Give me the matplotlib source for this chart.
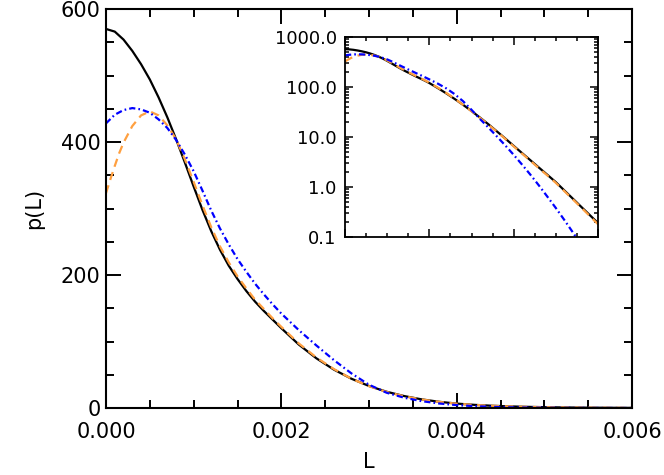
import numpy as np
import matplotlib
matplotlib.use("Agg")
import matplotlib.pyplot as plt
from matplotlib.ticker import MultipleLocator, FixedLocator, LogLocator, FuncFormatter, NullFormatter

plt.rcParams['font.family'] = ['DejaVu Sans']
plt.rcParams['lines.scale_dashes'] = False

# ---- data ----
L_black = [0.0, 0.0001, 0.0002, 0.0003, 0.0004, 0.0005, 0.0006, 0.0007, 0.0008, 0.0009,
           0.0010, 0.0011, 0.0012, 0.0013, 0.0014, 0.0015, 0.0016, 0.0017, 0.0018, 0.0019,
           0.0020, 0.0022, 0.0024, 0.0026, 0.0028, 0.0030, 0.0032, 0.0034, 0.0036, 0.0038,
           0.0040, 0.0042, 0.0044, 0.0046, 0.0048, 0.0050, 0.0052, 0.0054, 0.0056, 0.0058,
           0.0060]
p_black = [570, 566, 554, 537, 517, 494, 467, 437, 404, 369,
           333, 298, 266, 238, 214, 194, 176, 160, 146, 133,
           120, 95.3, 74.7, 57.7, 44.0, 33.1, 24.5, 18.0, 13.0, 9.35,
           6.65, 4.76, 3.41, 2.44, 1.75, 1.25, 0.857, 0.588, 0.403, 0.277,
           0.19]

L_orange = [0.0, 0.00005, 0.0001, 0.00015, 0.0002, 0.0003, 0.0004, 0.0005, 0.0006, 0.0007,
            0.0008, 0.0009, 0.0010, 0.0011, 0.0012, 0.0013, 0.0014, 0.0015, 0.0016, 0.0017,
            0.0018, 0.0019, 0.0020, 0.0022, 0.0024, 0.0026, 0.0028, 0.0030, 0.0032, 0.0034,
            0.0036, 0.0038, 0.0040, 0.0042, 0.0044, 0.0046, 0.0048, 0.0050, 0.0052, 0.0054,
            0.0056, 0.0058, 0.0060]
p_orange = [323, 344, 364, 383, 399, 424, 440, 446, 440, 425,
            404, 374, 340, 305, 272, 243, 219, 198, 180, 163,
            149, 135, 122, 97, 76, 58.5, 44.0, 32.8, 24.2, 17.7,
            12.8, 9.2, 6.5, 4.65, 3.32, 2.37, 1.70, 1.21, 0.83, 0.57,
            0.39, 0.265, 0.18]

L_blue = [0.0, 0.0001, 0.0002, 0.0003, 0.0004, 0.0005, 0.0006, 0.0007, 0.0008, 0.0009,
          0.0010, 0.0011, 0.0012, 0.0013, 0.0014, 0.0015, 0.0016, 0.0017, 0.0018, 0.0019,
          0.0020, 0.0022, 0.0024, 0.0026, 0.0028, 0.0030, 0.0032, 0.0034, 0.0036, 0.0038,
          0.0040, 0.0042, 0.0044, 0.0046, 0.0048, 0.0050, 0.0052, 0.0054, 0.0056, 0.0058,
          0.0060]
p_blue = [428, 441, 448, 451, 449, 444, 434, 421, 403, 381,
          356, 327, 297, 270, 246, 224, 205, 187, 171, 156,
          142, 117, 94, 72, 52, 35, 23, 15.5, 10.3, 6.8,
          4.4, 2.8, 1.75, 1.07, 0.64, 0.38, 0.22, 0.125, 0.07, 0.04,
          0.022]

main_yticks = [0, 200, 400, 600]
main_xticks = [0.000, 0.002, 0.004, 0.006]
inset_yticks = [0.1, 1.0, 10.0, 100.0, 1000.0]

xlabel = "L"
ylabel = "p(L)"

# ---- figure ----
fig = plt.figure(figsize=(6.64, 4.75), dpi=100)
ax = fig.add_axes([106/664, 1-408/475, (632-106)/664, (408-9)/475])

black_kw = dict(color='black', lw=1.6, ls='-', solid_joinstyle='round')
orange_kw = dict(color='#FFA040', lw=1.6, ls=(0, (6, 4)))
blue_kw = dict(color='#0000FF', lw=1.6, ls=(0, (4.5, 2.2, 1.2, 2.2)))

ax.plot(L_black, p_black, **black_kw)
ax.plot(L_orange, p_orange, **orange_kw)
ax.plot(L_blue, p_blue, **blue_kw)

ax.set_xlim(0, 0.006)
ax.set_ylim(0, 600)
ax.xaxis.set_major_locator(FixedLocator(main_xticks))
ax.xaxis.set_minor_locator(MultipleLocator(0.0005))
ax.yaxis.set_major_locator(FixedLocator(main_yticks))
ax.yaxis.set_minor_locator(MultipleLocator(50))
ax.xaxis.set_major_formatter(FuncFormatter(lambda v, p: "%.3f" % v))
ax.yaxis.set_major_formatter(FuncFormatter(lambda v, p: "%d" % round(v)))
ax.tick_params(which='both', direction='in', top=True, right=True, width=1.4)
ax.tick_params(which='major', length=11, labelsize=15)
ax.tick_params(which='minor', length=6)
ax.tick_params(axis='x', which='major', pad=10)
ax.tick_params(axis='y', which='major', pad=4)
for s in ax.spines.values():
    s.set_linewidth(1.5)

ax.set_xlabel(xlabel, fontsize=15)
ax.set_ylabel(ylabel, fontsize=15)
ax.xaxis.set_label_coords(0.5, (408-452)/399)
ax.yaxis.set_label_coords((44-106)/526, 0.5)

# ---- inset ----
axi = fig.add_axes([345/664, 1-237/475, (598-345)/664, (237-37)/475])
axi.plot(L_black, p_black, **black_kw)
axi.plot(L_orange, p_orange, **orange_kw)
axi.plot(L_blue, p_blue, **blue_kw)
axi.set_yscale('log')
axi.set_xlim(0, 0.006)
axi.set_ylim(0.1, 1000)
axi.xaxis.set_major_locator(FixedLocator(main_xticks))
axi.xaxis.set_minor_locator(MultipleLocator(0.0005))
axi.xaxis.set_major_formatter(NullFormatter())
axi.yaxis.set_major_locator(FixedLocator(inset_yticks))
axi.yaxis.set_minor_locator(LogLocator(base=10, subs=np.arange(2, 10), numticks=20))
axi.yaxis.set_minor_formatter(NullFormatter())
axi.yaxis.set_major_formatter(FuncFormatter(lambda v, p: "%.1f" % v))
axi.tick_params(which='both', direction='in', top=True, right=True, width=1.1)
axi.tick_params(which='major', length=6, labelsize=13)
axi.tick_params(which='minor', length=3)
axi.tick_params(axis='y', which='major', pad=6)
for s in axi.spines.values():
    s.set_linewidth(1.3)

fig.savefig("out.png", dpi=100)
